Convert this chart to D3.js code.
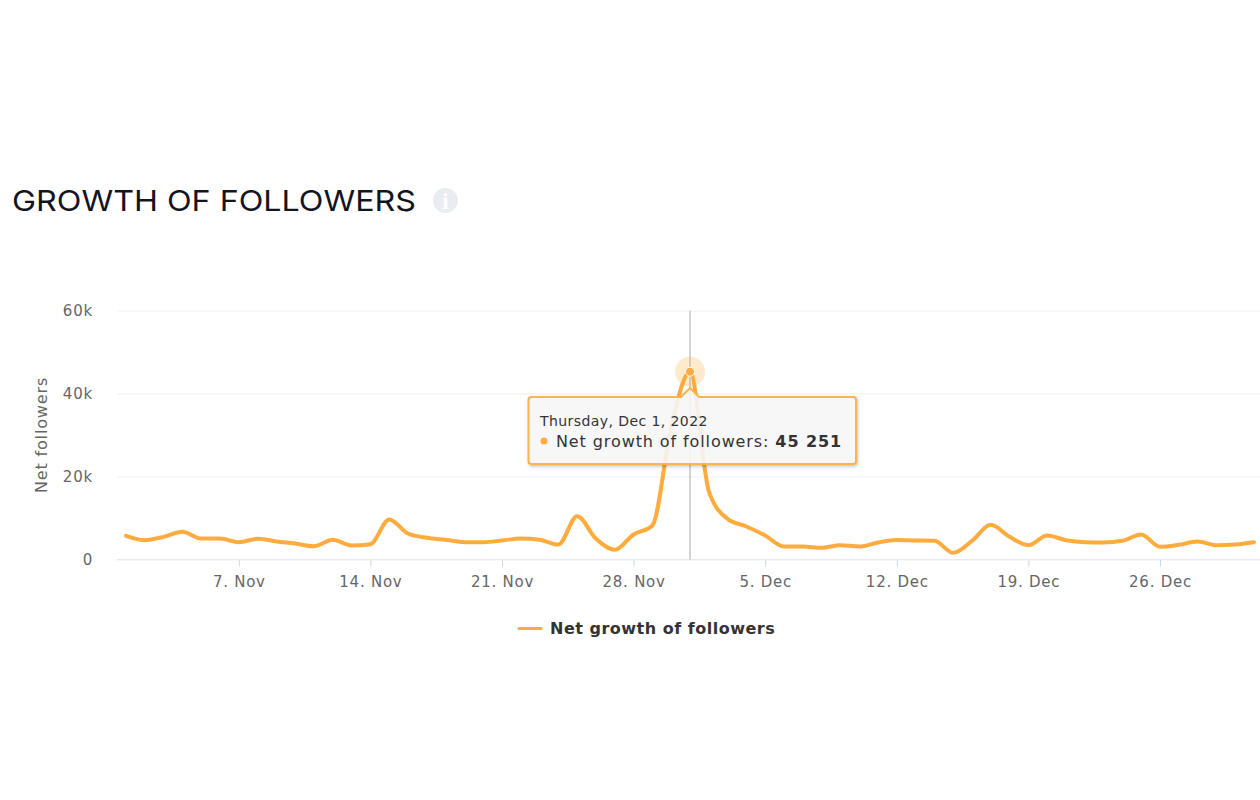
<!DOCTYPE html>
<html>
<head>
<meta charset="utf-8">
<title>Growth of followers</title>
<script src="https://cdn.jsdelivr.net/npm/d3@7/dist/d3.min.js"></script>
<style>
	html, body { margin: 0; padding: 0; background: #fff; }
	svg { display: block; font-family: "DejaVu Sans", sans-serif; }
</style>
</head>
<body>
<svg id="chart" width="1260" height="800"></svg>
<script>
const startDay = `2022-11-01`;
const endDay = `2023-01-01`;
const followers = [
	5700, 4660, 5460, 6660, 5060, 5060, 4180, 4980, 4340, 3850,
	3210, 4740, 3370, 3690, 9640, 6260, 5220, 4740, 4180, 4180,
	4580, 5060, 4740, 3610, 10440, 4980, 2330, 6020, 8190, 32000,
	45251, 16500, 9800, 7950, 5780, 3130, 3130, 2810, 3450, 3130,
	4100, 4700, 4580, 4500, 1600, 4500, 8350, 5460, 3450, 5780,
	4660, 4180, 4100, 4500, 6020, 3050, 3530, 4340, 3450, 3610,
	4180
];
const yTicks = [0, 20000, 40000, 60000];
const yTickLabels = [`0`, `20k`, `40k`, `60k`];
const xTicks = [`2022-11-07`, `2022-11-14`, `2022-11-21`, `2022-11-28`, `2022-12-05`, `2022-12-12`, `2022-12-19`, `2022-12-26`];
const hoverIndex = 30;

const orange = `#ffab3d`;
const days = d3.utcDay.range(new Date(startDay), new Date(endDay));

const svg = d3.select(`#chart`);

const x = d3.scaleUtc()
	.domain([days[0], days[days.length - 1]])
	.range([126, 1254]);
const y = d3.scaleLinear()
	.domain([0, 60000])
	.range([559.5, 310.5]);

// shadow for the tooltip box
const shadow = svg.append(`defs`).append(`filter`)
	.attr(`id`, `tipShadow`)
	.attr(`x`, `-5%`).attr(`y`, `-10%`)
	.attr(`width`, `110%`).attr(`height`, `125%`);
shadow.append(`feDropShadow`)
	.attr(`dx`, 1).attr(`dy`, 1.5)
	.attr(`stdDeviation`, 1.5)
	.attr(`flood-color`, `#000`)
	.attr(`flood-opacity`, 0.25);

// title
svg.append(`text`)
	.attr(`x`, 12).attr(`y`, 211)
	.style(`font-family`, `Inter, sans-serif`)
	.style(`font-size`, `29px`)
	.style(`font-weight`, 400)
	.attr(`textLength`, 404)
	.attr(`lengthAdjust`, `spacingAndGlyphs`)
	.attr(`fill`, `#14141f`)
	.text(`GROWTH OF FOLLOWERS`);

svg.append(`circle`)
	.attr(`cx`, 445.5).attr(`cy`, 200.5).attr(`r`, 12.5)
	.attr(`fill`, `#e9edf1`);
svg.append(`text`)
	.attr(`x`, 445.5).attr(`y`, 208.5)
	.attr(`text-anchor`, `middle`)
	.style(`font-family`, `"Liberation Serif", serif`)
	.style(`font-size`, `23px`)
	.style(`font-weight`, 700)
	.attr(`fill`, `#fff`)
	.text(`i`);

// y axis + gridlines
const yAxis = svg.append(`g`)
	.attr(`transform`, `translate(117,0)`)
	.call(d3.axisLeft(y)
		.tickValues(yTicks)
		.tickSize(-1143)
		.tickPadding(24)
		.tickFormat((d, i) => yTickLabels[i]));
yAxis.select(`.domain`).remove();
yAxis.selectAll(`line`).attr(`stroke`, `#f0f0f2`);
yAxis.selectAll(`text`)
	.style(`font-family`, `"DejaVu Sans", sans-serif`)
	.style(`font-size`, `15px`)
	.style(`letter-spacing`, `0.8px`)
	.attr(`fill`, `#666`);

svg.append(`text`)
	.attr(`transform`, `translate(47,435) rotate(-90)`)
	.attr(`text-anchor`, `middle`)
	.style(`font-size`, `16px`)
	.style(`letter-spacing`, `0.85px`)
	.attr(`fill`, `#666`)
	.text(`Net followers`);

// x axis
const xAxis = svg.append(`g`)
	.attr(`transform`, `translate(0,${y(0)})`)
	.call(d3.axisBottom(x)
		.tickValues(xTicks.map(d => new Date(d)))
		.tickSize(7)
		.tickPadding(10)
		.tickFormat(d3.utcFormat(`%-d. %b`)));
xAxis.select(`.domain`).remove();
xAxis.selectAll(`line`).attr(`stroke`, `#ccd6eb`);
xAxis.selectAll(`text`)
	.style(`font-family`, `"DejaVu Sans", sans-serif`)
	.style(`font-size`, `15px`)
	.style(`letter-spacing`, `0.75px`)
	.attr(`fill`, `#666`);
svg.append(`line`)
	.attr(`x1`, 117).attr(`x2`, 1260)
	.attr(`y1`, y(0)).attr(`y2`, y(0))
	.attr(`stroke`, `#e6e9f2`);

// crosshair
const hoverX = x(days[hoverIndex]);
const hoverY = y(followers[hoverIndex]);
svg.append(`line`)
	.attr(`x1`, hoverX).attr(`x2`, hoverX)
	.attr(`y1`, y(60000)).attr(`y2`, y(0))
	.attr(`stroke`, `#c4c4c8`)
	.attr(`stroke-width`, 1.5);

// series
const line = d3.line()
	.x((d, i) => x(days[i]))
	.y(d => y(d))
	.curve(d3.curveMonotoneX);
svg.append(`path`)
	.datum(followers)
	.attr(`d`, line)
	.attr(`fill`, `none`)
	.attr(`stroke`, orange)
	.attr(`stroke-width`, 4)
	.attr(`stroke-linecap`, `round`)
	.attr(`stroke-linejoin`, `round`);

// hover marker
svg.append(`circle`)
	.attr(`cx`, hoverX).attr(`cy`, hoverY).attr(`r`, 15)
	.attr(`fill`, orange)
	.attr(`fill-opacity`, 0.25);
svg.append(`circle`)
	.attr(`cx`, hoverX).attr(`cy`, hoverY).attr(`r`, 4.5)
	.attr(`fill`, orange)
	.attr(`stroke`, `#fff`)
	.attr(`stroke-width`, 1);

// tooltip
const tipX0 = 528.5, tipX1 = 856, tipY0 = 397, tipY1 = 464, r = 3;
const tipPath = d3.path();
tipPath.moveTo(tipX0 + r, tipY0);
tipPath.lineTo(hoverX - 9, tipY0);
tipPath.lineTo(hoverX, tipY0 - 9);
tipPath.lineTo(hoverX + 9, tipY0);
tipPath.lineTo(tipX1 - r, tipY0);
tipPath.arcTo(tipX1, tipY0, tipX1, tipY0 + r, r);
tipPath.lineTo(tipX1, tipY1 - r);
tipPath.arcTo(tipX1, tipY1, tipX1 - r, tipY1, r);
tipPath.lineTo(tipX0 + r, tipY1);
tipPath.arcTo(tipX0, tipY1, tipX0, tipY1 - r, r);
tipPath.lineTo(tipX0, tipY0 + r);
tipPath.arcTo(tipX0, tipY0, tipX0 + r, tipY0, r);
tipPath.closePath();
svg.append(`path`)
	.attr(`d`, tipPath.toString())
	.attr(`fill`, `rgba(249,249,249,0.88)`)
	.attr(`stroke`, `#fbb44f`)
	.attr(`stroke-width`, 2)
	.attr(`filter`, `url(#tipShadow)`);

svg.append(`text`)
	.attr(`x`, 540).attr(`y`, 426)
	.style(`font-size`, `14px`)
	.style(`letter-spacing`, `0.42px`)
	.attr(`fill`, `#333`)
	.text(d3.utcFormat(`%A, %b %-d, %Y`)(days[hoverIndex]));
svg.append(`circle`)
	.attr(`cx`, 544).attr(`cy`, 441).attr(`r`, 3.5)
	.attr(`fill`, orange);
const tipText = svg.append(`text`)
	.attr(`x`, 556).attr(`y`, 447)
	.style(`font-size`, `16px`)
	.style(`letter-spacing`, `0.9px`)
	.attr(`fill`, `#333`);
tipText.append(`tspan`).text(`Net growth of followers: `);
tipText.append(`tspan`)
	.style(`font-weight`, 700)
	.text(d3.format(`,`)(followers[hoverIndex]).replace(`,`, ` `));

// legend
svg.append(`line`)
	.attr(`x1`, 519).attr(`x2`, 541)
	.attr(`y1`, 628.5).attr(`y2`, 628.5)
	.attr(`stroke`, orange)
	.attr(`stroke-width`, 3)
	.attr(`stroke-linecap`, `round`);
svg.append(`text`)
	.attr(`x`, 550).attr(`y`, 634)
	.style(`font-size`, `16px`)
	.style(`font-weight`, 700)
	.style(`letter-spacing`, `0.5px`)
	.attr(`fill`, `#333`)
	.text(`Net growth of followers`);
</script>
</body>
</html>
